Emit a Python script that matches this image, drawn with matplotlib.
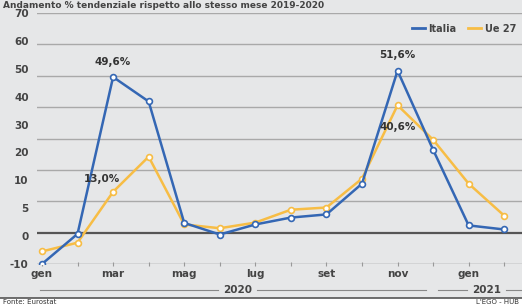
import matplotlib
matplotlib.use("Agg")
import matplotlib.pyplot as plt
import matplotlib.transforms as mtransforms
from matplotlib.lines import Line2D
from matplotlib.patches import Rectangle
import numpy as np

months = ['gen', 'feb', 'mar', 'apr', 'mag', 'giu', 'lug', 'ago', 'set', 'ott', 'nov', 'dic', 'gen', 'feb']
italia = [-10, -0.4, 49.6, 41.8, 3.1, -0.6, 2.6, 4.8, 5.8, 15.6, 51.6, 26.4, 2.3, 1.0]
ue27 = [-6, -3.2, 13.0, 24.2, 2.6, 1.4, 3.2, 7.3, 8.0, 17.2, 40.6, 29.6, 15.6, 5.4]
ytick_labels = ['70', '60', '50', '40', '30', '20', '10', '5', '0', '-10']
annotations = [(2, 49.6, '49,6%'), (2, 13.0, '13,0%'), (10, 51.6, '51,6%'), (10, 40.6, '40,6%')]
years = [('2020', 0, 11), ('2021', 12, 13)]

BG = '#e6e7e8'
BLUE = '#3467b4'
YEL = '#f7bd45'
FONT = ['Liberation Sans Narrow', 'DejaVu Sans']
plt.rcParams['font.family'] = FONT

fig = plt.figure(figsize=(5.22, 3.06), dpi=100, facecolor=BG)
ax = fig.add_axes([37/522, (306-264)/306, 1 - 37/522, (264-13)/306])
ax.set_facecolor(BG)

x = np.arange(len(months))
ax.set_xlim(-0.14, 13.5)
ax.set_ylim(-10, 70)

# gridlines
for v in range(0, 80, 10):
    ax.axhline(v, color='#555555' if v == 0 else '#a9a9a9',
               lw=1.6 if v == 0 else 1.0, zorder=1)
ax.axhline(-10, color='#888888', lw=1.0, zorder=1)

ax.plot(x, ue27, color=YEL, lw=1.8, marker='o', ms=4.2, mfc='white',
        mec=YEL, mew=1.2, zorder=3, label='Ue 27')
ax.plot(x, italia, color=BLUE, lw=1.8, marker='o', ms=4.2, mfc='white',
        mec=BLUE, mew=1.2, zorder=4, label='Italia')

for spine in ax.spines.values():
    spine.set_visible(False)

# y tick labels (as printed, evenly spaced)
ax.set_yticks(np.linspace(70, -10, len(ytick_labels)))
ax.set_yticklabels(ytick_labels, fontsize=7.5, color='#444444', fontweight='bold')
ax.tick_params(axis='y', length=0, pad=6)

# x ticks
ax.set_xticks(x[::2])
ax.set_xticklabels(months[::2], fontsize=7.5, color='#444444', fontweight='bold')
ax.set_xticks(x, minor=True)
ax.tick_params(axis='x', which='both', length=3, width=0.8, color='#999999',
               direction='inout', pad=2)

# annotations
offs = {'49,6%': (0, 7), '13,0%': (-8, 6), '51,6%': (0, 8), '40,6%': (0, -19)}
for xi, yv, txt in annotations:
    dx, dy = offs[txt]
    ax.annotate(txt, (xi, yv), xytext=(dx, dy), textcoords='offset points',
                ha='center', va='bottom', fontsize=7.5, fontweight='bold',
                color='#333333', zorder=5)

# year labels with lines
trans = mtransforms.blended_transform_factory(ax.transData, fig.transFigure)
ypos = (306 - 290) / 306
for name, a, b in years:
    c = (a + b) / 2
    ax.text(c, ypos, name, transform=trans, ha='center', va='center',
            fontsize=7.5, fontweight='bold', color='#444444')
    gap = 0.55
    left = a - 0.06 if a == 0 else a - 0.85
    right = b - 0.2 if b < 13 else 13.5
    fig.add_artist(Line2D([left, c - gap], [ypos, ypos],
                          transform=trans, color='#888888', lw=0.8))
    fig.add_artist(Line2D([c + gap, right], [ypos, ypos],
                          transform=trans, color='#888888', lw=0.8))

# legend
leg = ax.legend(handles=[Line2D([], [], color=BLUE, lw=2, label='Italia'),
                         Line2D([], [], color=YEL, lw=2, label='Ue 27')],
                loc='upper right', bbox_to_anchor=(1.0, 0.98), ncol=2, frameon=False,
                fontsize=7, handlelength=1.3, handletextpad=0.4, columnspacing=1.2,
                borderaxespad=0.2)
for t in leg.get_texts():
    t.set_color('#444444')
    t.set_fontweight('bold')

# title at top (partly cut in the reference)
fig.text(0.005, 0.997, "Andamento % tendenziale rispetto allo stesso mese 2019-2020",
         ha='left', va='top', fontsize=6.5, color='#444444', fontweight='bold')

# bottom source strip
fig.add_artist(Rectangle((0, 0), 1, 8/306, transform=fig.transFigure,
                         facecolor='white', edgecolor='none', zorder=0))
fig.add_artist(Line2D([0, 1], [8.5/306, 8.5/306], transform=fig.transFigure,
                      color='#555555', lw=1.2))
fig.text(0.005, 0.002, 'Fonte: Eurostat', ha='left', va='bottom', fontsize=5, color='#333333')
fig.text(0.995, 0.002, "L'EGO - HUB", ha='right', va='bottom', fontsize=5, color='#333333')

fig.savefig('out.png', dpi=100, facecolor=BG)
